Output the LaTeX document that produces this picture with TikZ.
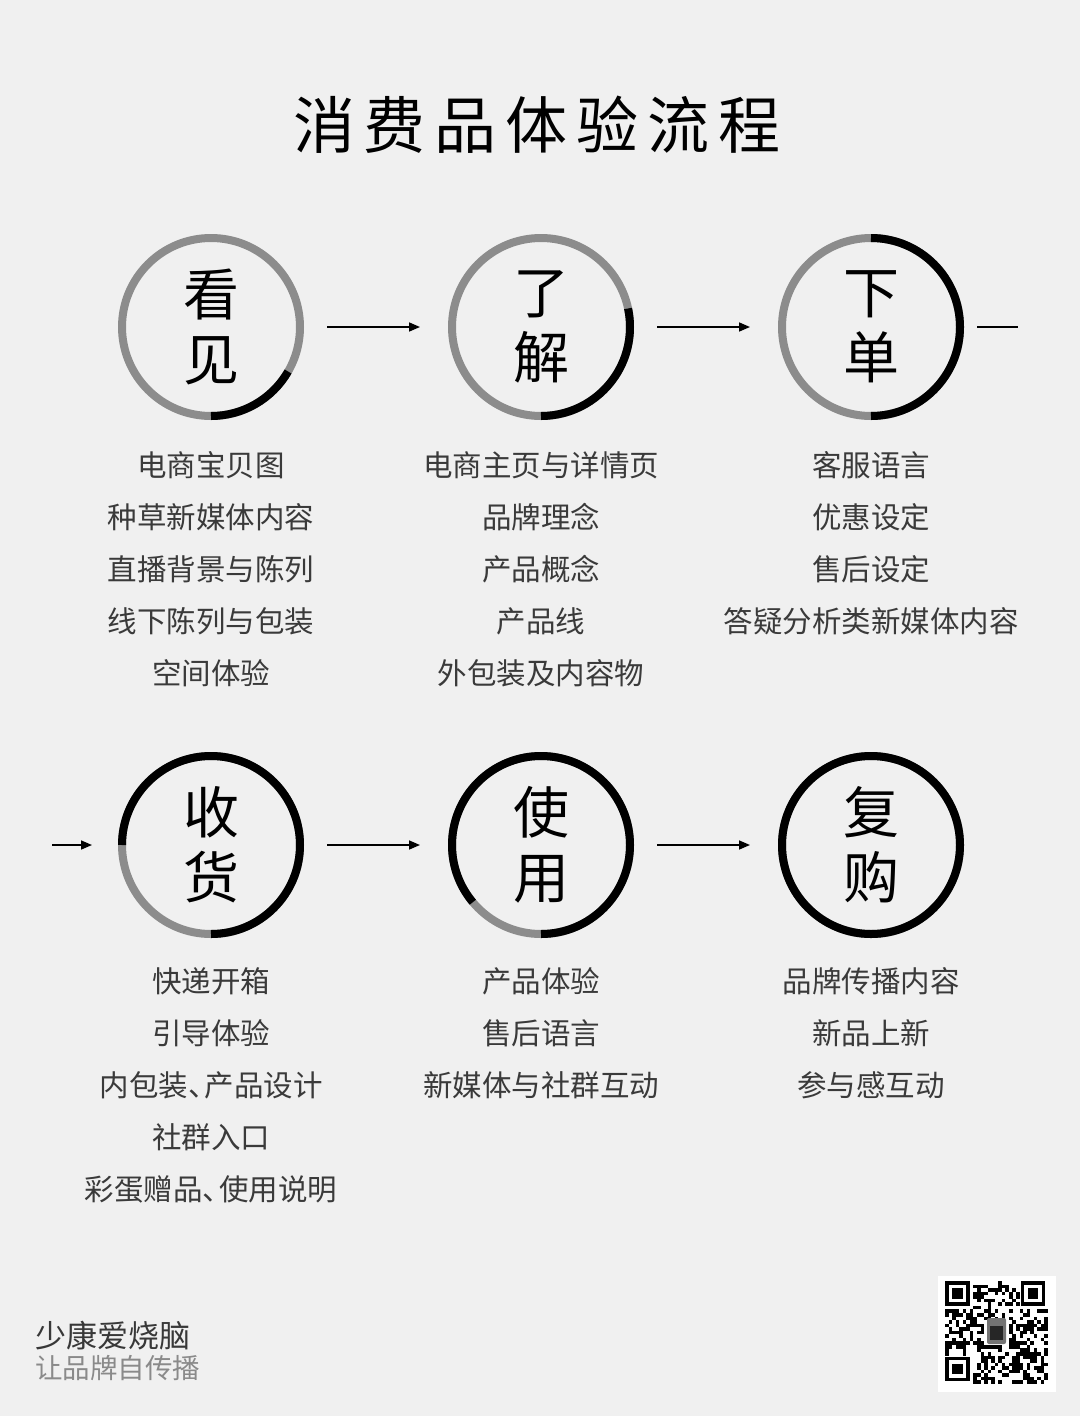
\documentclass[tikz,border=0pt]{standalone}
\usepackage{fontspec}
\newfontfamily\cjk{Noto Sans CJK SC}
\usetikzlibrary{arrows.meta}
\definecolor{paper}{HTML}{F0F0F0}
\definecolor{ringgray}{HTML}{8C8C8C}
\definecolor{itemtext}{HTML}{3A3A3A}
\definecolor{subtext}{HTML}{8A8A8A}
\def\progress(#1)(#2){\draw[ringdone] (#1.center) ++(-90:89) arc (-90:-90+#2:89);}
\def\dun{、\kern-13pt}

\begin{document}
\begin{tikzpicture}[x=1pt, y=1pt,
	stage/.style={circle, draw=ringgray, line width=8pt, minimum size=178pt, inner sep=0pt,
		align=center, font={\cjk\fontsize{56}{65}\selectfont}},
	ringdone/.style={line width=8pt, color=black},
	steps/.style={align=center, anchor=base, inner sep=0pt, text=itemtext,
		font={\cjk\fontsize{29.5}{52}\selectfont}},
	flow/.style={line width=1.6pt, -{Triangle[length=11pt, width=9pt]}, shorten <=23pt, shorten >=28pt},
	brand/.style={anchor=base west, inner sep=0pt}]
	%%%%% START %%%%%
	
	\fill[paper] (0, 0) rectangle (1080, -1416);
	\useasboundingbox (0, 0) rectangle (1080, -1416);
	
	\node[font={\cjk\fontsize{62}{70}\selectfont\addfontfeature{LetterSpace=14.5}}] (title) at (537, -125) {消费品体验流程};
	
	% first row
	\node[stage] (kan) at (211, -327) {看\\见};
	\node[stage] (liao) at (541, -327) {了\\解};
	\node[stage] (xia) at (871, -327) {下\\单};
	\progress(kan)(60)
	\progress(liao)(102)
	\progress(xia)(180)
	
	\draw[flow] (kan) -- (liao);
	\draw[flow] (liao) -- (xia);
	\coordinate (wrapR) at (1018, -327);
	\draw[line width=1.6pt, shorten <=13pt] (xia) -- (wrapR);
	
	% lists sit on the baseline of their last line
	\node[steps] (kanList) at (211, -684) {电商宝贝图\\种草新媒体内容\\直播背景与陈列\\线下陈列与包装\\空间体验};
	\node[steps] (liaoList) at (541, -684) {电商主页与详情页\\品牌理念\\产品概念\\产品线\\外包装及内容物};
	\node[steps] (xiaList) at (871, -632) {客服语言\\优惠设定\\售后设定\\答疑分析类新媒体内容};
	
	% second row
	\node[stage] (shou) at (211, -845) {收\\货};
	\node[stage] (shi) at (541, -845) {使\\用};
	\node[stage] (fu) at (871, -845) {复\\购};
	\progress(shou)(270)
	\progress(shi)(310)
	\progress(fu)(360)
	
	\coordinate (wrapL) at (52, -845);
	\draw[line width=1.6pt, -{Triangle[length=11pt, width=9pt]}, shorten >=26pt] (wrapL) -- (shou);
	\draw[flow] (shou) -- (shi);
	\draw[flow] (shi) -- (fu);
	
	\node[steps] (shouList) at (211, -1200) {快递开箱\\引导体验\\内包装\dun 产品设计\\社群入口\\彩蛋赠品\dun 使用说明};
	\node[steps] (shiList) at (541, -1096) {产品体验\\售后语言\\新媒体与社群互动};
	\node[steps] (fuList) at (871, -1096) {品牌传播内容\\新品上新\\参与感互动};
	
	% footer
	\node[brand, text=black!78, font={\cjk\fontsize{31}{36}\selectfont}] (author) at (35, -1347) {少康爱烧脑};
	\node[brand, text=subtext, font={\cjk\fontsize{27.5}{32}\selectfont}] (slogan) at (35, -1378) {让品牌自传播};
	
	% qr code
	\fill[white] (938, -1276) rectangle (1056, -1392);
	\pgfmathsetseed{17}
	\foreach \i in {0,...,28}{
		\foreach \j in {0,...,28}{
			\pgfmathtruncatemacro\skipit{(\i<8 && \j<8) || (\i>20 && \j<8) || (\i<8 && \j>20) || (\i>10 && \i<18 && \j>10 && \j<18)}
			\pgfmathrandominteger{\bit}{0}{1}
			\ifnum\skipit=0 \ifnum\bit=1
				\fill[black] (945+\i*3.55, -1281-\j*3.55) rectangle ++(3.6, -3.6);
			\fi\fi
		}
	}
	\foreach \fx/\fy in {945/-1281, 1020.55/-1281, 945/-1356.55}{
		\fill[black] (\fx, \fy) rectangle ++(24.85, -24.85);
		\fill[white] (\fx+3.55, \fy-3.55) rectangle ++(17.75, -17.75);
		\fill[black] (\fx+7.1, \fy-7.1) rectangle ++(10.65, -10.65);
	}
	\fill[black!55, rounded corners=2pt] (987, -1318) rectangle (1006, -1344);
	\fill[black!85] (990, -1326) rectangle (1003, -1340);
	
	%%%%% END %%%%%
\end{tikzpicture}
\end{document}
